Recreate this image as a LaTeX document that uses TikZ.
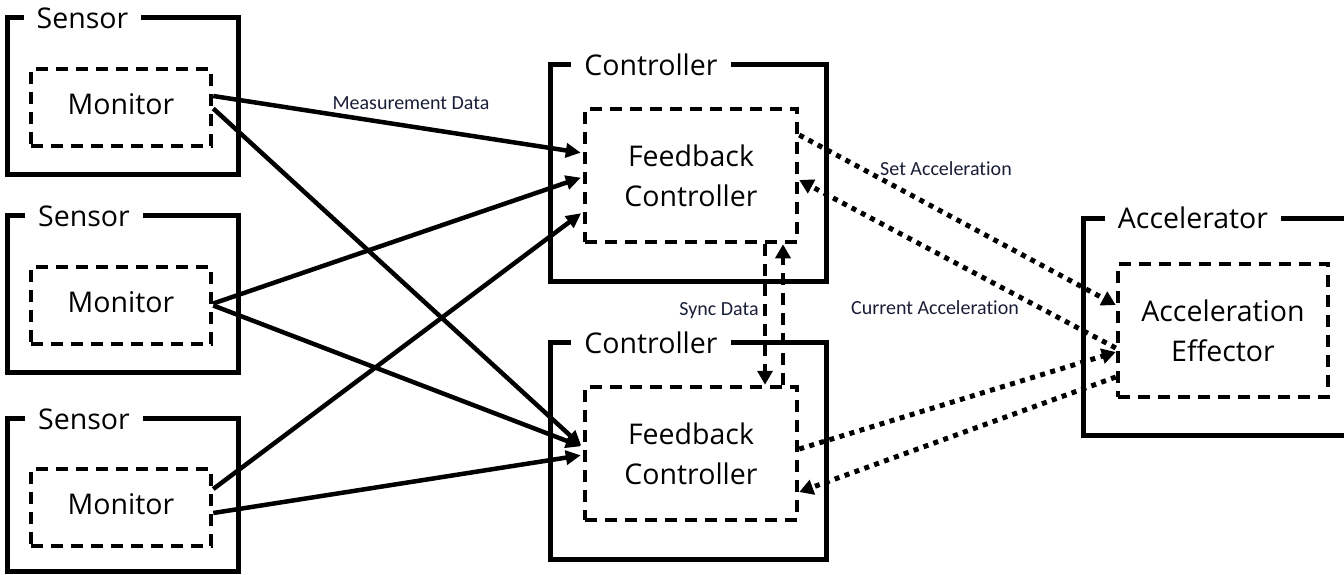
\documentclass[tikz,border=0pt]{standalone}
\usepackage{fontspec}
\setmainfont{Open Sans}
\newfontfamily\labelfont[Ligatures=NoCommon]{Carlito}
\usetikzlibrary{arrows.meta,calc}
\definecolor{tagink}{RGB}{25,30,55}
\begin{document}
\begin{tikzpicture}[x=1pt,y=-1pt,
  bigfont/.style={font=\fontsize{28.5}{40}\selectfont},
  outerbox/.style={draw, line width=5pt, inner sep=0pt},
  innerbox/.style={draw, line width=4.5pt, dash pattern=on 12pt off 8pt, align=center, bigfont, inner sep=0pt},
  monitorbox/.style={innerbox, minimum width=180pt, minimum height=77pt, text depth=6pt},
  boxtitle/.style={fill=white, inner xsep=13pt, inner ysep=1pt, anchor=base, bigfont},
  flow/.style={line width=4.5pt, shorten >=2pt, -{Triangle[length=15pt,width=14pt]}},
  dotflow/.style={line width=5pt, dash pattern=on 5pt off 5.5pt, -{Triangle[length=14pt,width=15pt]}},
  syncflow/.style={line width=4.5pt, dash pattern=on 12pt off 8pt, -{Triangle[length=14pt,width=15pt]}},
  tag/.style={font=\labelfont\fontsize{20}{22}\selectfont, text=tagink, inner sep=1pt}
]
\useasboundingbox (0,0) rectangle (1344,574);

% sensors
\node[outerbox, minimum width=231pt, minimum height=157pt] (s1) at (122.5,95.5) {};
\node[outerbox, minimum width=231pt, minimum height=157pt] (s2) at (122.5,293.5) {};
\node[outerbox, minimum width=231pt, minimum height=153pt] (s3) at (122.5,494.5) {};
\node[boxtitle] (s1t) at (82.5,28) {Sensor};
\node[boxtitle] (s2t) at (84,226) {Sensor};
\node[boxtitle] (s3t) at (84,429) {Sensor};
\node[monitorbox] (m1) at (121,107.5) {Monitor};
\node[monitorbox] (m2) at (121,305.5) {Monitor};
\node[monitorbox] (m3) at (121,507.5) {Monitor};

% controllers
\node[outerbox, minimum width=276pt, minimum height=217pt] (c1) at (688,172.5) {};
\node[outerbox, minimum width=276pt, minimum height=217pt] (c2) at (688,450.5) {};
\node[boxtitle] (c1t) at (651,75) {Controller};
\node[boxtitle] (c2t) at (651,353) {Controller};
\node[innerbox, minimum width=212pt, minimum height=133pt] (fc1) at (691,175.5) {Feedback\\Controller};
\node[innerbox, minimum width=212pt, minimum height=133pt] (fc2) at (691,453.5) {Feedback\\Controller};

% accelerator, running off the right edge
\draw[line width=5pt] (1344,218) -- (1083,218) -- (1083,435) -- (1344,435);
\node[boxtitle] (at) at (1193,228) {Accelerator};
\node[innerbox, minimum width=210pt, minimum height=133pt] (ae) at (1223,330.5) {Acceleration\\Effector};

% measurement data
\draw[flow] ([yshift=11.5pt]m1.east) -- ([yshift=22.5pt]fc1.west);
\draw[flow] ([yshift=-1pt]m1.east) -- ([yshift=6.5pt]fc2.west);
\draw[flow] ([yshift=2pt]m2.east) -- ([yshift=-1.5pt]fc1.west);
\draw[flow] (m2.east) -- ([yshift=6.5pt]fc2.west);
\draw[flow] ([yshift=18.5pt]m3.east) -- ([yshift=-36.5pt]fc1.west);
\draw[flow] ([yshift=-5.5pt]m3.east) -- ([yshift=-1.5pt]fc2.west);

% set / current acceleration
\draw[dotflow] ([yshift=40.5pt]fc1.east) -- ([yshift=25.5pt]ae.west);
\draw[dotflow] ([yshift=-17.5pt]ae.west) -- ([yshift=-4.5pt]fc1.east);
\draw[dotflow] ([yshift=4.5pt]fc2.east) -- ([yshift=-21.5pt]ae.west);
\draw[dotflow] ([yshift=-46.5pt]ae.west) -- ([yshift=-38.5pt]fc2.east);

% sync data
\draw[syncflow] ([xshift=74pt]fc1.south) -- ([xshift=74pt]fc1.south |- fc2.north);
\draw[syncflow] ([xshift=92pt]fc1.south |- fc2.north) -- ([xshift=92pt]fc1.south);

% labels
\node[tag] (lmeas) at (411,103) {Measurement Data};
\node[tag] (lset) at (946,169) {Set Acceleration};
\node[tag] (lcur) at (935,308) {Current Acceleration};
\node[tag] (lsync) at (719,311) {Sync Data};
\end{tikzpicture}
\end{document}
